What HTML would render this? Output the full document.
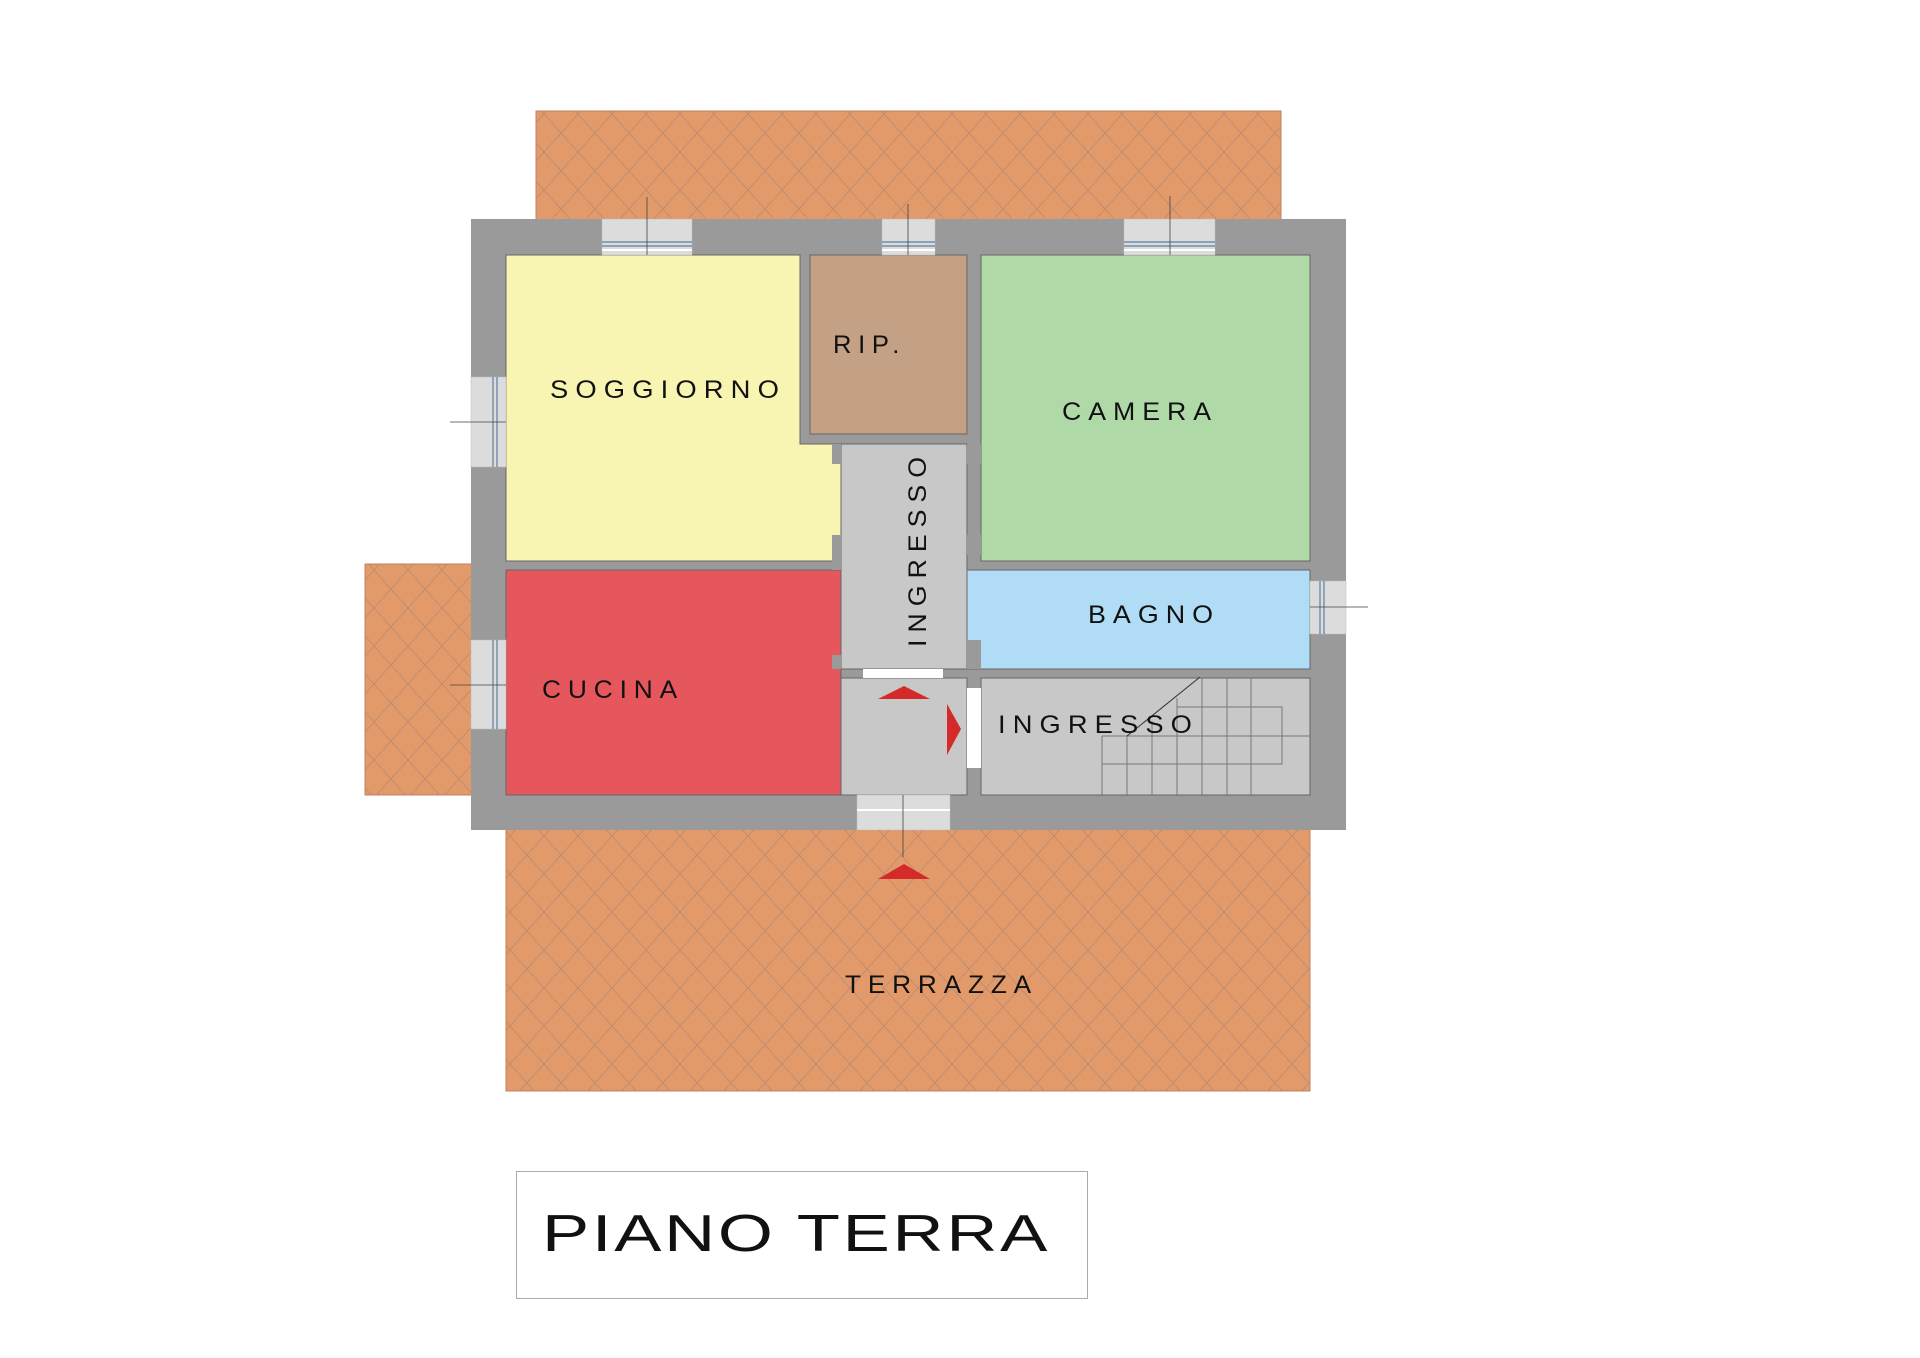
<!DOCTYPE html>
<html><head><meta charset="utf-8"><style>
html,body{margin:0;padding:0;background:#fff;}
svg{display:block;}
text{font-family:"Liberation Sans",sans-serif;fill:#111;}
</style></head><body>
<svg width="1920" height="1358" viewBox="0 0 1920 1358" xmlns="http://www.w3.org/2000/svg">
<defs>
<pattern id="h" width="34" height="38" patternUnits="userSpaceOnUse">
<rect width="34" height="38" fill="#e39a6a"/>
<path d="M0 0L34 38M34 0L0 38" stroke="#b88a70" stroke-width="0.8"/>
</pattern>
</defs>
<rect x="536" y="111" width="745" height="110" fill="url(#h)" stroke="#c08060" stroke-width="1"/>
<rect x="365" y="564" width="108" height="231" fill="url(#h)" stroke="#c08060" stroke-width="1"/>
<rect x="506" y="828" width="804" height="263" fill="url(#h)" stroke="#c08060" stroke-width="1"/>
<rect x="471" y="219" width="875" height="611" fill="#9a9a9a"/>
<path d="M506 255H800V444H841V561H506Z" fill="#f8f4b2" stroke="#666" stroke-width="1"/>
<rect x="810" y="255" width="157" height="179" fill="#c4a084" stroke="#666" stroke-width="1"/>
<rect x="981" y="255" width="329" height="306" fill="#b0d9a8" stroke="#666" stroke-width="1"/>
<rect x="841" y="444" width="126" height="225" fill="#c8c8c8" stroke="#666" stroke-width="1"/>
<rect x="506" y="570" width="335" height="225" fill="#e5575d" stroke="#666" stroke-width="1"/>
<rect x="967" y="570" width="343" height="99" fill="#b0dcf5" stroke="#666" stroke-width="1"/>
<rect x="841" y="678" width="126" height="117" fill="#c8c8c8" stroke="#666" stroke-width="1"/>
<rect x="981" y="678" width="329" height="117" fill="#c8c8c8" stroke="#666" stroke-width="1"/>
<rect x="832" y="444" width="9" height="20" fill="#9a9a9a"/>
<rect x="832" y="535" width="9" height="35" fill="#9a9a9a"/>
<rect x="832" y="655" width="9" height="14" fill="#9a9a9a"/>
<rect x="967" y="444" width="14" height="20" fill="#9a9a9a"/>
<rect x="967" y="535" width="14" height="20" fill="#9a9a9a"/>
<rect x="967" y="640" width="14" height="29" fill="#9a9a9a"/>
<rect x="863" y="669" width="80" height="9" fill="#fff"/>
<rect x="967" y="688" width="14" height="80" fill="#fff"/>
<g fill="#dcdcdc" stroke="#bbb" stroke-width="0.5">
<rect x="602" y="219" width="90" height="36"/>
<rect x="882" y="219" width="53" height="36"/>
<rect x="1124" y="219" width="91" height="36"/>
<rect x="471" y="377" width="35" height="90"/>
<rect x="471" y="640" width="35" height="89"/>
<rect x="1310" y="581" width="36" height="53"/>
<rect x="857" y="795" width="93" height="35"/>
</g>
<g stroke="#5a7fa0" stroke-width="1.2">
<path d="M602 242H692M602 246H692M882 242H935M882 246H935M1124 242H1215M1124 246H1215"/>
<path d="M493 377V467M497 377V467M493 640V729M497 640V729M1320 581V634M1324 581V634"/>
</g>
<g stroke="#fff" stroke-width="2"><path d="M857 810H950M602 250H692M882 250H935M1124 250H1215"/></g>
<g stroke="#444" stroke-width="0.8">
<path d="M647 197V255M908 204V255M1170 196V255M450 422H506M450 685H506M1310 607H1368M903 795V857"/>
</g>
<g stroke="#777" stroke-width="1" fill="none">
<path d="M1102 736V795M1127 736V795M1152 721V795M1177 698V795M1202 678V795M1227 678V795M1251 678V795"/>
<path d="M1102 736H1310M1102 764H1282V707H1177"/>
<path d="M1127 736L1200 677" stroke="#333"/>
</g>
<g fill="#d42a2a">
<polygon points="878,699 930,699 904,686"/>
<polygon points="947,704 961,729 947,755"/>
<polygon points="878,879 930,879 904,864"/>
</g>
<g font-size="25" letter-spacing="6.5">
<text x="550" y="398" textLength="236" lengthAdjust="spacingAndGlyphs">SOGGIORNO</text>
<text x="833" y="353" textLength="73" lengthAdjust="spacingAndGlyphs">RIP.</text>
<text x="1062" y="420" textLength="156" lengthAdjust="spacingAndGlyphs">CAMERA</text>
<text x="1088" y="623" textLength="132" lengthAdjust="spacingAndGlyphs">BAGNO</text>
<text x="542" y="698" textLength="142" lengthAdjust="spacingAndGlyphs">CUCINA</text>
<text x="998" y="733" textLength="201" lengthAdjust="spacingAndGlyphs">INGRESSO</text>
<text x="845" y="993" textLength="193" lengthAdjust="spacingAndGlyphs">TERRAZZA</text>
<text transform="translate(926,647) rotate(-90)" x="0" y="0" textLength="197" lengthAdjust="spacingAndGlyphs">INGRESSO</text>
</g>
<rect x="516.5" y="1171.5" width="571" height="127" fill="#fff" stroke="#aaa" stroke-width="1"/>
<text x="542" y="1251" font-size="52" letter-spacing="2" textLength="508" lengthAdjust="spacingAndGlyphs">PIANO TERRA</text>
</svg>
</body></html>
